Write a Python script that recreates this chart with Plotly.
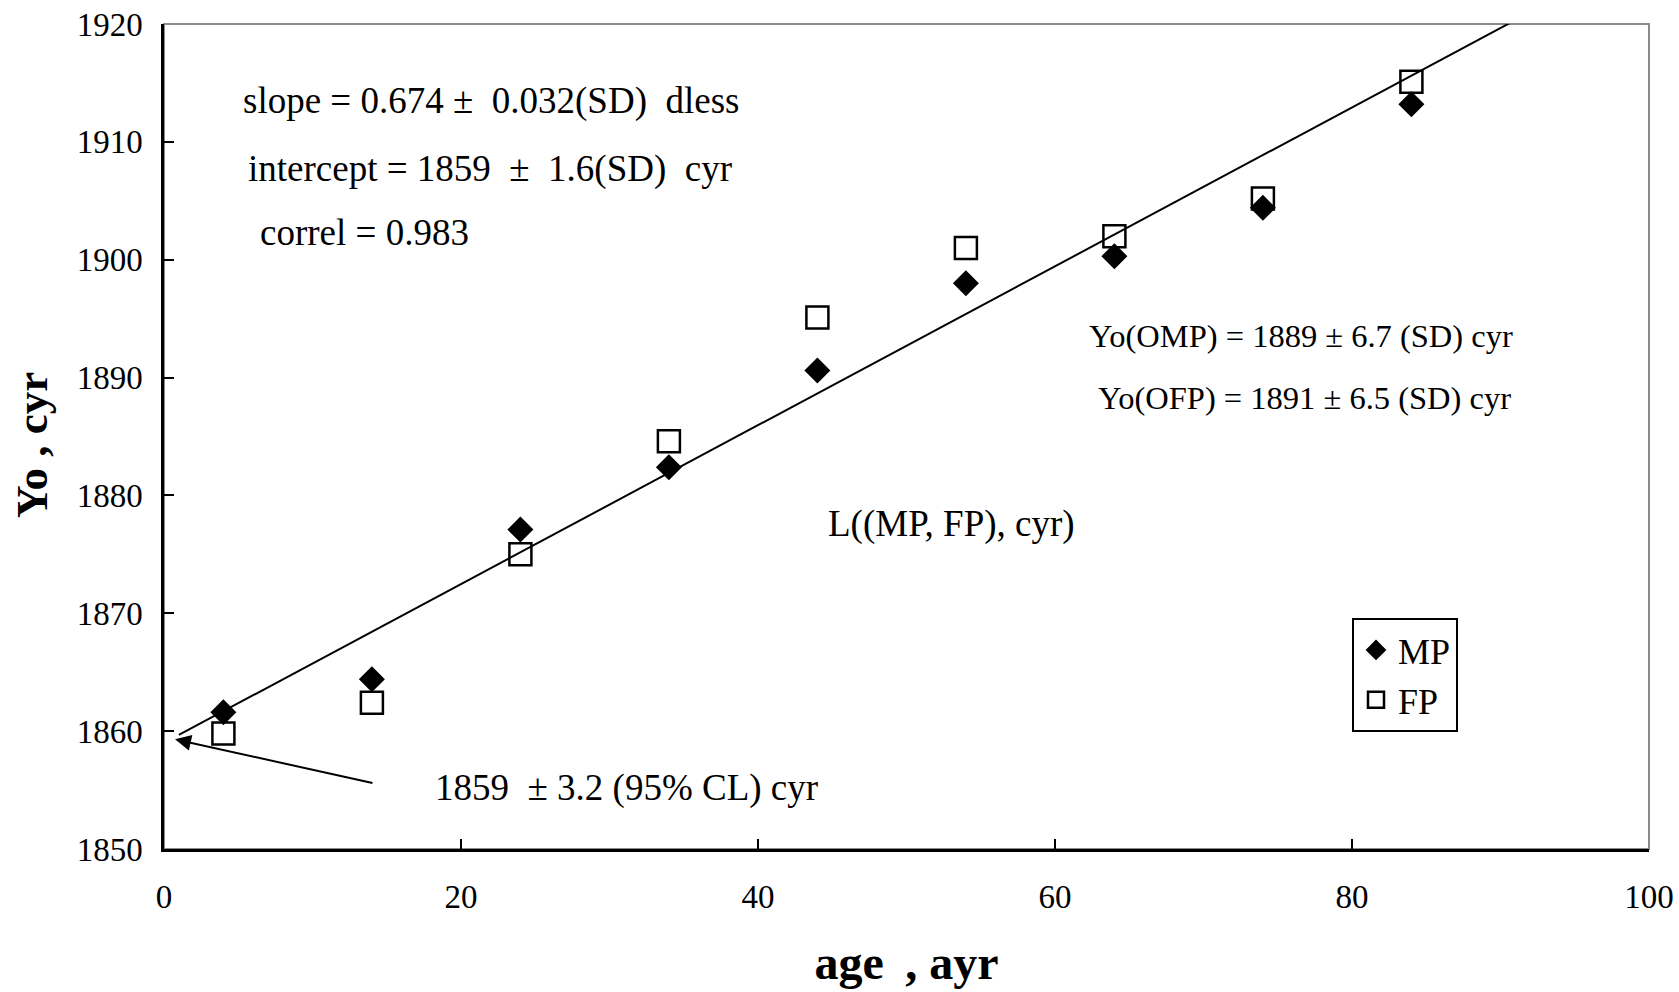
import plotly.graph_objects as go

# Age groups (ayr) and fitted Yo values (cyr) for the two series
age = [4, 14, 24, 34, 44, 54, 64, 74, 84]
yo_mp = [1861.6, 1864.4, 1877.1, 1882.4, 1890.6, 1898.0, 1900.3, 1904.4, 1913.2]
yo_fp = [1859.8, 1862.4, 1875.0, 1884.6, 1895.1, 1901.0, 1902.0, 1905.2, 1915.1]

# Linear fit L((MP, FP), cyr)
fit_slope = 0.674
fit_intercept = 1859
fit_x = [1, 100]
fit_y = [fit_intercept + fit_slope * x for x in fit_x]

# Axis ticks
x_ticks = [0, 20, 40, 60, 80, 100]
y_ticks = [1850, 1860, 1870, 1880, 1890, 1900, 1910, 1920]

SERIF = "Liberation Serif, Times New Roman, serif"
NB = "\u00a0"

fig = go.Figure()

fig.add_trace(go.Scatter(
    x=age, y=yo_mp, mode="markers", name="MP",
    marker=dict(symbol="diamond", size=20, color="black", line=dict(width=0)),
))
fig.add_trace(go.Scatter(
    x=age, y=yo_fp, mode="markers", name="FP",
    marker=dict(symbol="square-open", size=22, color="black", line=dict(width=2.5, color="black")),
))
fig.add_trace(go.Scatter(
    x=fit_x, y=fit_y, mode="lines", showlegend=False,
    line=dict(color="black", width=2),
))

def note(text, x, y, size, xanchor="left"):
    fig.add_annotation(
        x=x, y=y, xref="x", yref="y", text=text, showarrow=False,
        xanchor=xanchor, yanchor="middle",
        font=dict(family=SERIF, size=size, color="black"),
    )

note(f"slope = 0.674 ±{NB} 0.032(SD){NB} dless", 5.2, 1913.5, 37)
note(f"intercept = 1859{NB} ±{NB} 1.6(SD){NB} cyr", 5.55, 1907.7, 37)
note("correl = 0.983", 6.3, 1902.3, 37)
note("Yo(OMP) = 1889 ± 6.7 (SD) cyr", 76.55, 1893.5, 32.5, "center")
note("Yo(OFP) = 1891 ± 6.5 (SD) cyr", 76.8, 1888.3, 32.5, "center")
note("L((MP, FP), cyr)", 53.0, 1877.6, 37, "center")
note(f"1859{NB} ± 3.2 (95% CL) cyr", 18.1, 1855.2, 37)

# Arrow pointing to the intercept
fig.add_annotation(
    x=0.74, y=1859.31, ax=14.14, ay=1855.57,
    xref="x", yref="y", axref="x", ayref="y",
    text="", showarrow=True, arrowhead=2, arrowsize=1.6, arrowwidth=2,
    arrowcolor="black",
)

# Vertical axis title
fig.add_annotation(
    x=-0.0889, y=0.4897, xref="paper", yref="paper",
    text="Yo , cyr", textangle=-90, showarrow=False,
    xanchor="center", yanchor="middle",
    font=dict(family=SERIF, size=45, color="black", weight="bold"),
)

# Gray frame on top and right of the plot area
fig.add_shape(
    type="rect", xref="paper", yref="paper", x0=0, y0=0, x1=1, y1=1,
    line=dict(color="#8c8c8c", width=2), layer="below",
)

axis_common = dict(
    showgrid=False, zeroline=False, showline=True, linecolor="black", linewidth=2.5,
    ticks="inside", ticklen=10, tickwidth=2, tickcolor="black",
    tickfont=dict(family=SERIF, size=33, color="black"),
    automargin=False,
)

fig.update_layout(
    width=1679, height=992,
    margin=dict(l=164, r=30, t=24, b=143),
    paper_bgcolor="white", plot_bgcolor="white",
    xaxis=dict(
        range=[0, 100], tickvals=x_ticks, ticklabelstandoff=17,
        title=dict(text=f"age{NB}\u2009, ayr", standoff=32,
                   font=dict(family=SERIF, size=48, color="black", weight="bold")),
        **axis_common,
    ),
    yaxis=dict(
        range=[1850, 1920], tickvals=y_ticks, ticklabelstandoff=12,
        **axis_common,
    ),
    legend=dict(
        x=0.800, y=0.28, xanchor="left", yanchor="top",
        bordercolor="black", borderwidth=2, bgcolor="white",
        font=dict(family=SERIF, size=36, color="black"),
        itemwidth=34,
    ),
)

fig.write_html("out.html")
